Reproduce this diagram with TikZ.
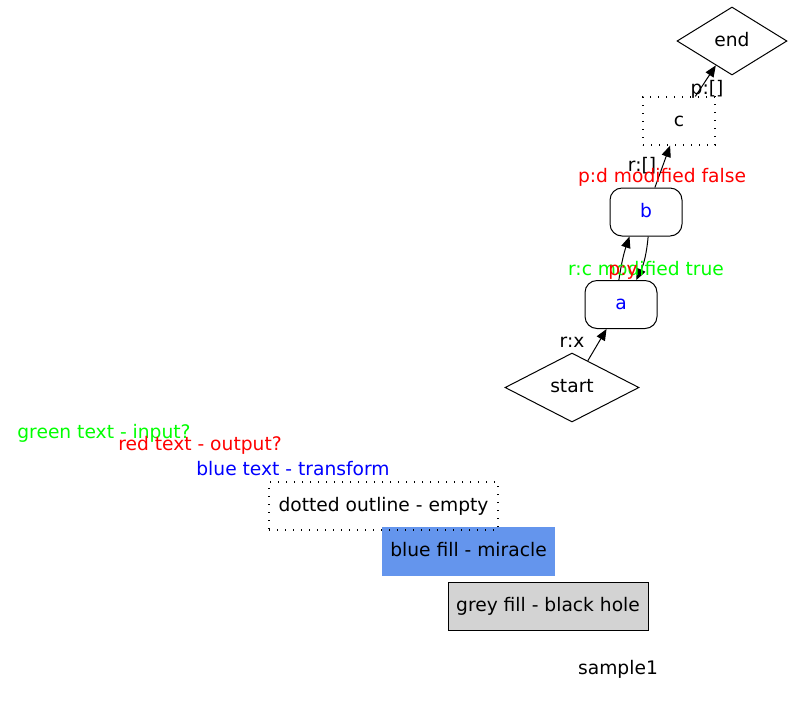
\documentclass[tikz,border=0pt]{standalone}
\usepackage{fontspec}
\setmainfont{DejaVu Sans}
\usetikzlibrary{shapes.geometric,arrows.meta}
\definecolor{gvgreen}{HTML}{00FF00}
\definecolor{gvred}{HTML}{FF0000}
\definecolor{gvblue}{HTML}{0000FF}
\definecolor{cornflower}{HTML}{6495ED}
\definecolor{lightgrey}{HTML}{D3D3D3}
\tikzset{
  every node/.style={font=\fontsize{14pt}{16pt}\selectfont, inner sep=0pt,
                     text height=10.5pt, text depth=3pt},
  gvdiamond/.style={draw, diamond, line width=0.75pt},
  roundbox/.style={draw, rectangle, rounded corners=9pt, line width=0.75pt,
                   minimum width=54pt, minimum height=36pt, text=gvblue},
  dotbox/.style={draw, rectangle, line width=0.9pt, dash pattern=on 0.9pt off 5.1pt},
  lbl/.style={},
  edge/.style={line width=0.75pt, -{Triangle[length=8.5pt,width=7pt]}}
}
\begin{document}
\begin{tikzpicture}[x=0.75pt,y=-0.75pt]
\useasboundingbox (0,0) rectangle (795,701);
% graph nodes
\node[gvdiamond, minimum width=82.5pt, minimum height=51pt] (end) at (732,41) {end};
\node[dotbox, minimum width=54pt, minimum height=36pt] (c) at (679,121) {c};
\node[roundbox] (b) at (646,212) {b};
\node[roundbox] (a) at (621,304.5) {a};
\node[gvdiamond, minimum width=100.5pt, minimum height=51.75pt] (start) at (572,387.5) {start};
% edges
\draw[edge] (start) -- (a);
\draw[edge] (a.95) to[bend left=5] (b.236);
\draw[edge] (b.275) to[bend left=10] (a.58);
\draw[edge] (b) -- (c);
\draw[edge] (c) -- (end);
% edge labels
\node[lbl] (lx) at (572,342) {r:x};
\node[lbl, text=gvgreen] (lrc) at (646,270) {r:c modified true};
\node[lbl, text=gvred] (lpy) at (623,270) {p:y};
\node[lbl] (lr) at (642,166) {r:[]};
\node[lbl, text=gvred] (lpd) at (662,177.5) {p:d modified false};
\node[lbl] (lp) at (707,89.5) {p:[]};
% legend
\node[lbl, text=gvgreen] (lg1) at (104,433.5) {green text - input?};
\node[lbl, text=gvred] (lg2) at (200,445.5) {red text - output?};
\node[lbl, text=gvblue] (lg3) at (293,470.5) {blue text - transform};
\node[fill=cornflower, minimum width=129.75pt, minimum height=36.75pt] (lg5) at (468.5,551.5) {blue fill - miracle};
\node[dotbox, minimum width=171.75pt, minimum height=36pt] (lg4) at (383.5,506) {dotted outline - empty};
\node[draw, line width=0.75pt, fill=lightgrey, minimum width=150pt, minimum height=36pt] (lg6) at (548,606) {grey fill - black hole};
\node[lbl] (title) at (618,669.5) {sample1};
\end{tikzpicture}
\end{document}
